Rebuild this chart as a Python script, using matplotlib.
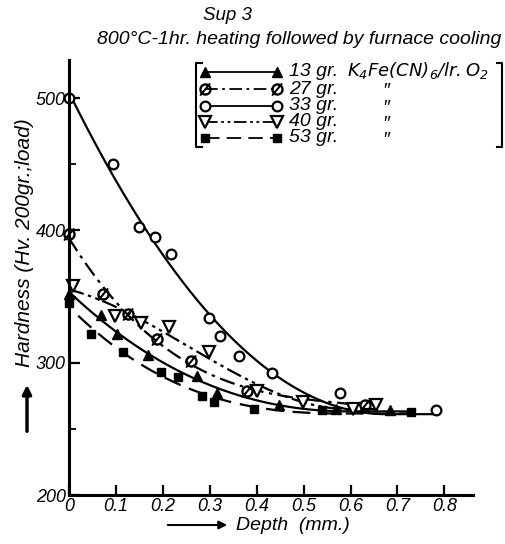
import numpy as np
import matplotlib.pyplot as plt
from matplotlib.lines import Line2D

plt.rcParams['font.family'] = ['Liberation Sans', 'DejaVu Sans']
plt.rcParams['font.style'] = 'italic'
plt.rcParams['mathtext.default'] = 'it'

# data (depth mm, hardness Hv)
tri_up_x = [0, 0.069, 0.103, 0.168, 0.274, 0.316, 0.448, 0.569, 0.684]
tri_up_y = [352, 336, 322, 306, 290, 277, 268, 265, 264]

phi_x = [0, 0.072, 0.126, 0.188, 0.26, 0.379, 0.63]
phi_y = [397, 352, 337, 318, 301, 279, 268]

circ_x = [0, 0.094, 0.149, 0.184, 0.218, 0.298, 0.322, 0.363, 0.433, 0.578, 0.781]
circ_y = [500, 450, 403, 395, 382, 334, 320, 305, 292, 277, 264]

tri_dn_x = [0.009, 0.099, 0.154, 0.214, 0.299, 0.40, 0.498, 0.606, 0.655]
tri_dn_y = [358, 335, 330, 327, 308, 279, 270, 265, 268]

sq_x = [0, 0.047, 0.115, 0.196, 0.233, 0.283, 0.309, 0.394, 0.54, 0.728]
sq_y = [345, 322, 308, 293, 289, 275, 270, 265, 264, 263]

labels = ['13 gr.', '27 gr.', '33 gr.', '40 gr.', '53 gr.']

series = [
    (tri_up_x, tri_up_y, dict(marker='^', mfc='k', ms=7), '-', (0, 0.72), 3),
    (phi_x, phi_y, dict(marker=r'$\emptyset$', mfc='k', ms=8), (0, (7, 2.5, 1.5, 2.5)), (0, 0.62), 3),
    (circ_x, circ_y, dict(marker='o', mfc='white', ms=7, mew=1.6), '-', (0, 0.78), 2),
    (tri_dn_x, tri_dn_y, dict(marker='v', mfc='white', ms=8, mew=1.6), (0, (7, 2, 1.5, 2, 1.5, 2)), (0, 0.66), 3),
    (sq_x, sq_y, dict(marker='s', mfc='k', ms=6), (0, (8, 4)), (0.02, 0.73), 3),
]

fig = plt.figure(figsize=(5.06, 5.44), dpi=100)
ax = fig.add_axes([0.136, 0.090, 0.798, 0.800])

for x, y, mk, ls, rng, deg in series:
    # hand-faired curve in the original: smooth fit through the points,
    # held flat once it bottoms out
    c = np.polyfit(x, y, deg)
    xx = np.linspace(rng[0], rng[1], 200)
    yy = np.minimum.accumulate(np.polyval(c, xx))
    ax.plot(xx, yy, color='k', lw=1.6, linestyle=ls)
    ax.plot(x, y, linestyle='none', color='k', mec='k', clip_on=False, **mk)

ax.set_xlim(0, 0.86)
ax.set_ylim(200, 529)
for s in ['top', 'right']:
    ax.spines[s].set_visible(False)
for s in ['left', 'bottom']:
    ax.spines[s].set_linewidth(2.2)

ax.set_xticks([0, 0.1, 0.2, 0.3, 0.4, 0.5, 0.6, 0.7, 0.8])
ax.set_xticklabels(['0', '0.1', '0.2', '0.3', '0.4', '0.5', '0.6', '0.7', '0.8'])
ax.set_yticks([200, 300, 400, 500])
ax.set_yticks([250, 350, 450], minor=True)
ax.tick_params(direction='in', length=8, width=1.6, labelsize=13, pad=2)
ax.tick_params(which='minor', direction='in', length=5, width=1.3)
ax.tick_params(axis='x', length=7)

# titles
fig.text(0.45, 1 - 15 / 544, 'Sup 3', ha='center', va='center', fontsize=13.5)
fig.text(0.591, 1 - 40 / 544, '800\u00b0C-1hr. heating followed by furnace cooling',
         ha='center', va='center', fontsize=14)

# axis labels with arrows
fig.text(25 / 506, 1 - 243 / 544, 'Hardness (Hv. 200gr.;load)', rotation=90,
         ha='center', va='center', fontsize=15)
ax.annotate('', xy=(27 / 506, 1 - 382 / 544), xytext=(27 / 506, 1 - 434 / 544),
            xycoords='figure fraction', textcoords='figure fraction',
            arrowprops=dict(arrowstyle='-|>', lw=2.5, color='k', mutation_scale=13))
fig.text(293 / 506, 1 - 525 / 544, 'Depth  (mm.)', ha='center', va='center', fontsize=14)
ax.annotate('', xy=(230 / 506, 1 - 525 / 544), xytext=(165 / 506, 1 - 525 / 544),
            xycoords='figure fraction', textcoords='figure fraction',
            arrowprops=dict(arrowstyle='-|>', lw=1.5, color='k', mutation_scale=12))

# legend drawn by hand, bracketed like the original
rows = [72, 89, 106, 122, 138]
for (x, y, mk, ls, rng, deg), lab, py in zip(series, labels, rows):
    fy = 1 - py / 544
    fig.add_artist(Line2D([205 / 506, 277 / 506], [fy, fy], transform=fig.transFigure,
                          color='k', mec='k', lw=1.3, linestyle=ls, **mk))
    fig.text(289 / 506, fy, lab, va='center', fontsize=14)
    if lab == '13 gr.':
        fig.text(347 / 506, fy + 0.003, r'$K_4Fe(CN)_6/lr.O_2$', va='center', fontsize=13)
    else:
        fig.text(386 / 506, fy - 0.004, '\u2033', va='center', ha='center', fontsize=14)

bl, br, bt, bb = 196 / 506, 502 / 506, 1 - 63 / 544, 1 - 147 / 544
fig.add_artist(Line2D([bl + 0.012, bl, bl, bl + 0.012], [bt, bt, bb, bb],
                      transform=fig.transFigure, color='k', lw=1.5))
fig.add_artist(Line2D([br - 0.01, br, br, br - 0.01], [bt, bt, bb, bb],
                      transform=fig.transFigure, color='k', lw=1.5))

fig.savefig('out.png', dpi=100)
